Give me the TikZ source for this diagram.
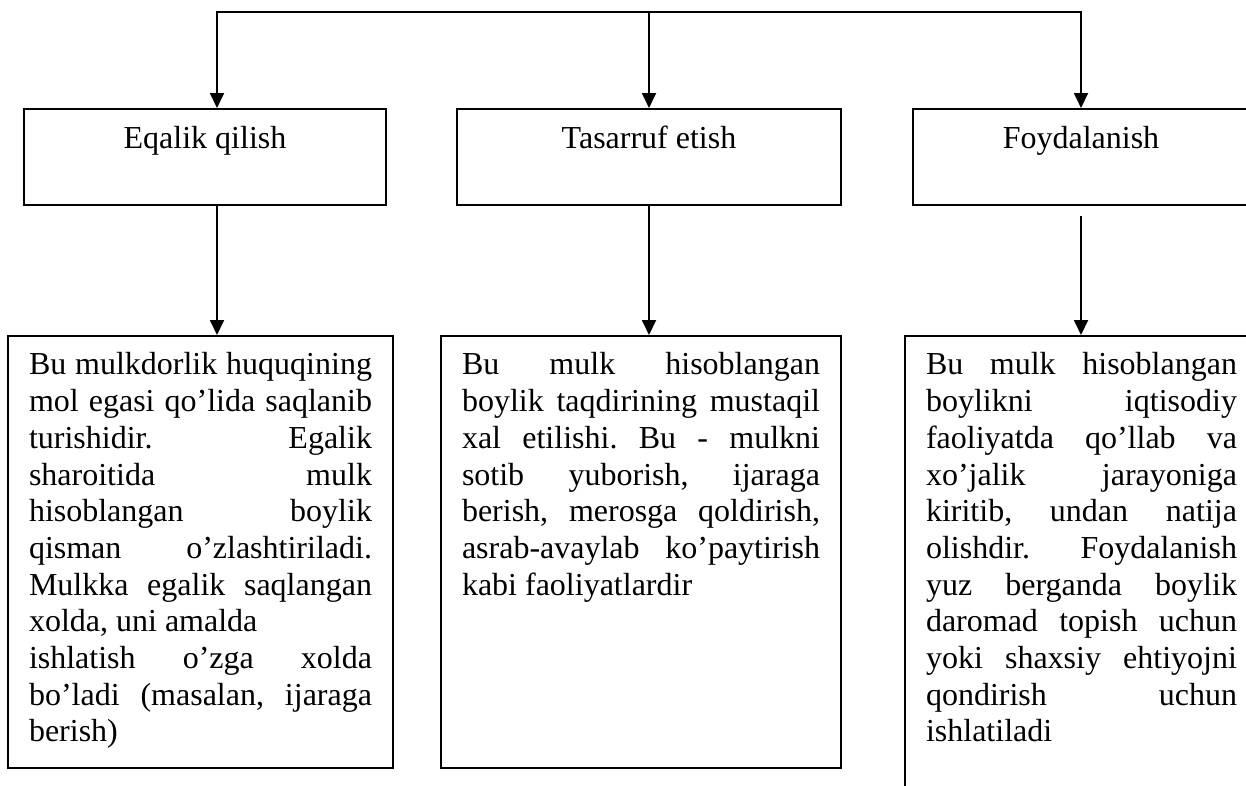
\documentclass[tikz,border=0pt]{standalone}
\usepackage{fontspec}
\setmainfont{Liberation Serif}
\usetikzlibrary{arrows.meta}
\newcommand\jl[1]{\hbox to\hsize{\frenchspacing\spaceskip=0pt plus 1fil\xspaceskip=0pt plus 1fil\relax #1}}
\newcommand\lftln[1]{\hbox to\hsize{#1\hfil}}
\begin{document}
\begin{tikzpicture}[x=1pt,y=-1pt,
  every node/.style={font=\fontsize{32}{36.7}\selectfont},
  headbox/.style={draw, line width=1.8pt, inner sep=0pt, anchor=north,
     text height=40pt, text depth=56pt},
  bodybox/.style={draw, line width=1.8pt, inner sep=0pt, anchor=north,
     text height=39pt},
  arr/.style={line width=1.8pt, -{Triangle[length=15pt,width=14pt]}},
  ln/.style={line width=1.8pt, line cap=rect}]
\useasboundingbox (0,0) rectangle (1246,785);
\clip (0,0) rectangle (1246,785);

\coordinate (top1) at (217,12);
\coordinate (top2) at (649,12);
\coordinate (top3) at (1081,12);

\node[headbox, minimum width=362pt] (e1) at (205,108) {Eqalik qilish};
\node[headbox, minimum width=384pt] (e2) at (649,108) {Tasarruf etish};
\node[headbox, minimum width=336pt] (e3) at (1081,108) {Foydalanish};

\node[bodybox, minimum width=385pt, text depth=393pt] (b1) at (200.5,335) {\vtop{\hsize=343pt\baselineskip=36.7pt\lineskiplimit=-100pt
\jl{Bu mulkdorlik huquqining}
\jl{mol egasi qo’lida saqlanib}
\jl{turishidir. Egalik}
\jl{sharoitida mulk}
\jl{hisoblangan boylik}
\jl{qisman o’zlashtiriladi.}
\jl{Mulkka egalik saqlangan}
\lftln{xolda, uni amalda}
\jl{ishlatish o’zga xolda}
\jl{bo’ladi (masalan, ijaraga}
\lftln{berish)}}};

\node[bodybox, minimum width=400pt, text depth=393pt] (b2) at (641,335) {\vtop{\hsize=358pt\baselineskip=36.7pt\lineskiplimit=-100pt
\jl{Bu mulk hisoblangan}
\jl{boylik taqdirining mustaqil}
\jl{xal etilishi. Bu - mulkni}
\jl{sotib yuborish, ijaraga}
\jl{berish, merosga qoldirish,}
\jl{asrab-avaylab ko’paytirish}
\lftln{kabi faoliyatlardir}}};

\node[bodybox, minimum width=353pt, text depth=480pt] (b3) at (1081.5,335) {\vtop{\hsize=311pt\baselineskip=36.7pt\lineskiplimit=-100pt
\jl{Bu mulk hisoblangan}
\jl{boylikni iqtisodiy}
\jl{faoliyatda qo’llab va}
\jl{xo’jalik jarayoniga}
\jl{kiritib, undan natija}
\jl{olishdir. Foydalanish}
\jl{yuz berganda boylik}
\jl{daromad topish uchun}
\jl{yoki shaxsiy ehtiyojni}
\jl{qondirish uchun}
\lftln{ishlatiladi}}};

\draw[ln] (top1) -- (top3);
\draw[arr] (top1) -- (top1 |- e1.north);
\draw[arr] (top2) -- (e2.north);
\draw[arr] (top3) -- (e3.north);

\draw[arr] (top1 |- e1.south) -- (top1 |- b1.north);
\draw[arr] (e2.south) -- (top2 |- b2.north);
\draw[arr] ([yshift=-10pt]e3.south) -- (top3 |- b3.north);
\end{tikzpicture}
\end{document}
